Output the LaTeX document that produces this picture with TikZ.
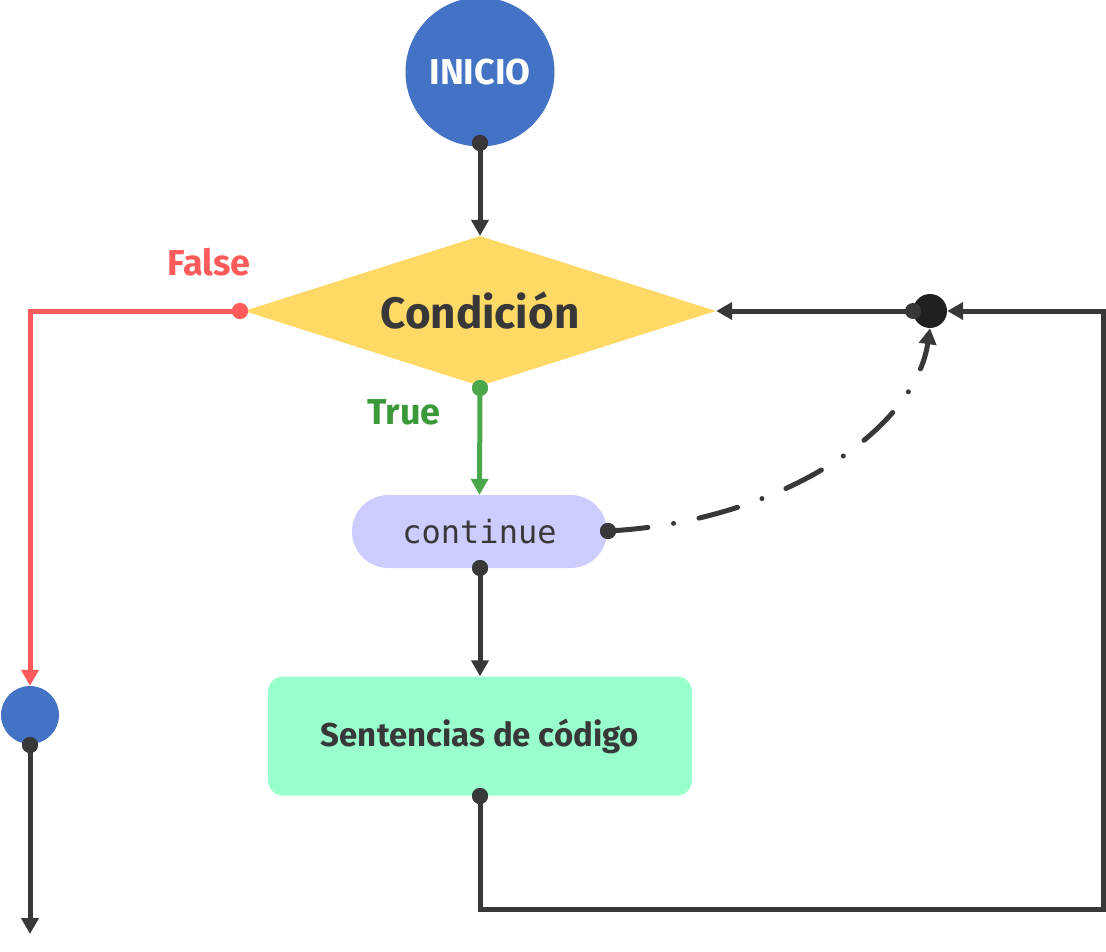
\documentclass[tikz,border=0pt]{standalone}
\usepackage{fontspec}
\setmainfont{Fira Sans}
\setmonofont{DejaVu Sans Mono}
\usetikzlibrary{shapes.geometric,shapes.misc,arrows.meta}
\definecolor{dk}{HTML}{383838}
\definecolor{blu}{HTML}{4472C4}
\definecolor{yel}{HTML}{FFD966}
\definecolor{rd}{HTML}{FF5B5B}
\definecolor{grn}{HTML}{4AA84A}
\definecolor{grnt}{HTML}{3A9A3A}
\definecolor{pill}{HTML}{CCCCFF}
\definecolor{mint}{HTML}{99FFCC}
\tikzset{
  x=1pt,y=-1pt,
  conn/.style={line width=5pt,color=dk,-{Triangle[width=17pt,length=16pt]}},
  dotn/.style={circle,fill=dk,inner sep=0pt,minimum size=16pt},
  lbl/.style={font=\bfseries\fontsize{36}{40}\selectfont}
}
\begin{document}
\begin{tikzpicture}
\useasboundingbox (0,0) rectangle (1106,952);
% nodes
\node[circle,fill=blu,minimum size=149pt,inner sep=0pt,text=white,font=\bfseries\fontsize{36}{40}\selectfont] (inicio) at (480,72) {INICIO};
\node[diamond,fill=yel,minimum width=472pt,minimum height=150pt,inner sep=0pt,aspect=3.15,text=dk,font=\bfseries\fontsize{44}{50}\selectfont] (cond) at (480,311) {Condición};
\node[rounded rectangle,fill=pill,minimum width=255pt,minimum height=73pt,inner sep=0pt,text=dk,font=\ttfamily\fontsize{32}{36}\selectfont] (cont) at (479.5,531.5) {continue};
\node[rectangle,rounded corners=15pt,fill=mint,minimum width=424pt,minimum height=119pt,inner sep=0pt,text=dk,font=\bfseries\fontsize{33}{38}\selectfont] (sent) at (480,736) {Sentencias de código};
\node[circle,fill=blu,minimum size=58pt,inner sep=0pt] (fin) at (30,715) {};
\node[circle,fill=black!87,minimum size=34pt,inner sep=0pt] (junc) at (930,311) {};
% connector dots
\node[dotn] (d1) at (480,143) {};
\node[dotn,fill=rd] (dF) at (240,311) {};
\node[dotn,fill=grn] (dT) at (480,388) {};
\node[dotn] (dC) at (480,568) {};
\node[dotn] (dR) at (608,531) {};
\node[dotn] (dS) at (480,796) {};
\node[dotn] (dE) at (30,745) {};
\node[dotn] (dJ) at (913,311) {};
\coordinate (endp) at (30,934);
\coordinate (c1) at (30,311);
\coordinate (c3) at (1103,909);
\coordinate (c4) at (1103,311);
% labels
\node[lbl,text=rd] (lF) at (209,262) {False};
\node[lbl,text=grnt] (lT) at (404,412) {True};
% connectors
\draw[conn] (d1.center) -- (cond.north);
\draw[conn,color=rd] (dF.center) -- (c1) -- (fin.north);
\draw[conn,color=grn] (dT.center) -- (cont.north);
\draw[conn] (dC.center) -- (sent.north);
\draw[conn] (dE.center) -- (endp);
\draw[conn] (dS.center) |- (c3) -- (c4) -- (junc.east);
\draw[conn] (dJ.center) -- (cond.east);
\draw[conn,line cap=round,dash pattern=on 40pt off 26pt on 0pt off 26pt] (dR.center) .. controls (780,522) and (915,430) .. (junc.south);
% redraw dots on top
\node[dotn] at (d1) {};
\node[dotn,fill=rd] at (dF) {};
\node[dotn,fill=grn] at (dT) {};
\node[dotn] at (dC) {};
\node[dotn] at (dR) {};
\node[dotn] at (dS) {};
\node[dotn] at (dE) {};
\end{tikzpicture}
\end{document}
